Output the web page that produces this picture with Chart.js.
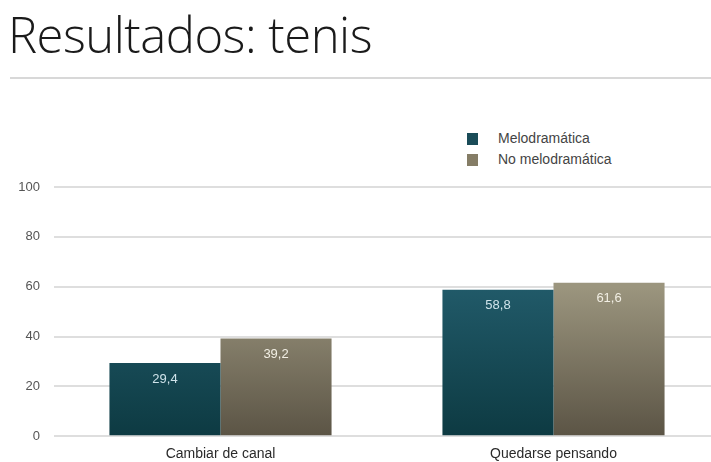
<!DOCTYPE html>
<html>
<head>
<meta charset="utf-8">
<script src="https://cdn.jsdelivr.net/npm/chart.js@4"></script>
<style>
  html, body { margin: 0; padding: 0; background: #fff; overflow: hidden; }
  body { width: 711px; height: 462px; position: relative; font-family: "Liberation Sans", Arial, sans-serif; }
  h1 { position: absolute; left: 8px; top: 1px; margin: 0; font-weight: 300; font-size: 49px; color: #1a1a1a; letter-spacing: -0.5px; font-family: "Open Sans", "Liberation Sans", sans-serif; }
  .rule { position: absolute; left: 10px; right: 0; top: 77px; height: 2px; background: #d8d8d8; }
  #wrap { position: absolute; left: 0; top: 100px; width: 720px; height: 365px; }
  #legend { position: absolute; left: 467px; top: 128px; font-size: 14px; color: #444; line-height: 21px; }
  #legend div { display: flex; align-items: center; }
  #legend span.box { display: inline-block; width: 11px; height: 12px; margin-right: 20px; }
</style>
</head>
<body>
<h1>Resultados: tenis</h1>
<div class="rule"></div>
<div id="legend"></div>
<div id="wrap"><canvas id="chart" width="720" height="365"></canvas></div>
<script>
const categorias = ["Cambiar de canal", "Quedarse pensando"];
const melodramatica = [29.4, 58.8];
const noMelodramatica = [39.2, 61.6];
const ticksY = [0, 20, 40, 60, 80, 100];

const canvas = document.getElementById("chart");
const ctx = canvas.getContext("2d");

// degradados verticales de las barras
function degradado(top, bottom) {
  return (c) => {
    const area = c.chart.chartArea;
    if (!area) return top;
    const g = c.chart.ctx.createLinearGradient(0, area.top, 0, area.bottom);
    g.addColorStop(0.4, top);
    g.addColorStop(1, bottom);
    return g;
  };
}

const series = [
  { label: "Melodramática", data: melodramatica, top: "#215a69", bottom: "#0d3a42", swatch: "#1a4c58", text: "#cfe3ea" },
  { label: "No melodramática", data: noMelodramatica, top: "#9b957e", bottom: "#5b5445", swatch: "#857d66", text: "#f2efe4" }
];

document.getElementById("legend").innerHTML = series
  .map(s => `<div><span class="box" style="background:${s.swatch}"></span>${s.label}</div>`)
  .join("");

// etiquetas de valor dentro de cada barra
const valores = {
  id: "valores",
  afterDatasetsDraw(chart) {
    const c = chart.ctx;
    c.save();
    c.font = "13px 'Liberation Sans', Arial, sans-serif";
    c.textAlign = "center";
    c.textBaseline = "middle";
    chart.data.datasets.forEach((ds, i) => {
      chart.getDatasetMeta(i).data.forEach((bar, j) => {
        c.fillStyle = series[i].text;
        c.fillText(String(ds.data[j]).replace(".", ","), bar.x, bar.y + 16);
      });
    });
    c.restore();
  }
};

new Chart(ctx, {
  type: "bar",
  data: {
    labels: categorias,
    datasets: series.map(s => ({
      label: s.label,
      data: s.data,
      backgroundColor: degradado(s.top, s.bottom),
      borderWidth: 0,
      categoryPercentage: 0.667,
      barPercentage: 1
    }))
  },
  options: {
    responsive: false,
    animation: false,
    layout: { padding: { left: 0, right: 0, top: 87, bottom: 0 } },
    plugins: { legend: { display: false }, tooltip: { enabled: false } },
    scales: {
      x: {
        grid: { display: false },
        border: { display: false },
        ticks: { color: "#2a2a2a", font: { size: 14, family: "'Liberation Sans', Arial, sans-serif" }, padding: 2 }
      },
      y: {
        min: 0,
        max: 100,
        afterBuildTicks: (axis) => { axis.ticks = ticksY.map(v => ({ value: v })); },
        afterFit: (axis) => { axis.width = 54; },
        grid: { color: "#dedede", lineWidth: 2, drawTicks: false },
        border: { display: false },
        ticks: { color: "#555", font: { size: 13, family: "'Liberation Sans', Arial, sans-serif" }, padding: 14 }
      }
    }
  },
  plugins: [valores]
});
</script>
</body>
</html>
